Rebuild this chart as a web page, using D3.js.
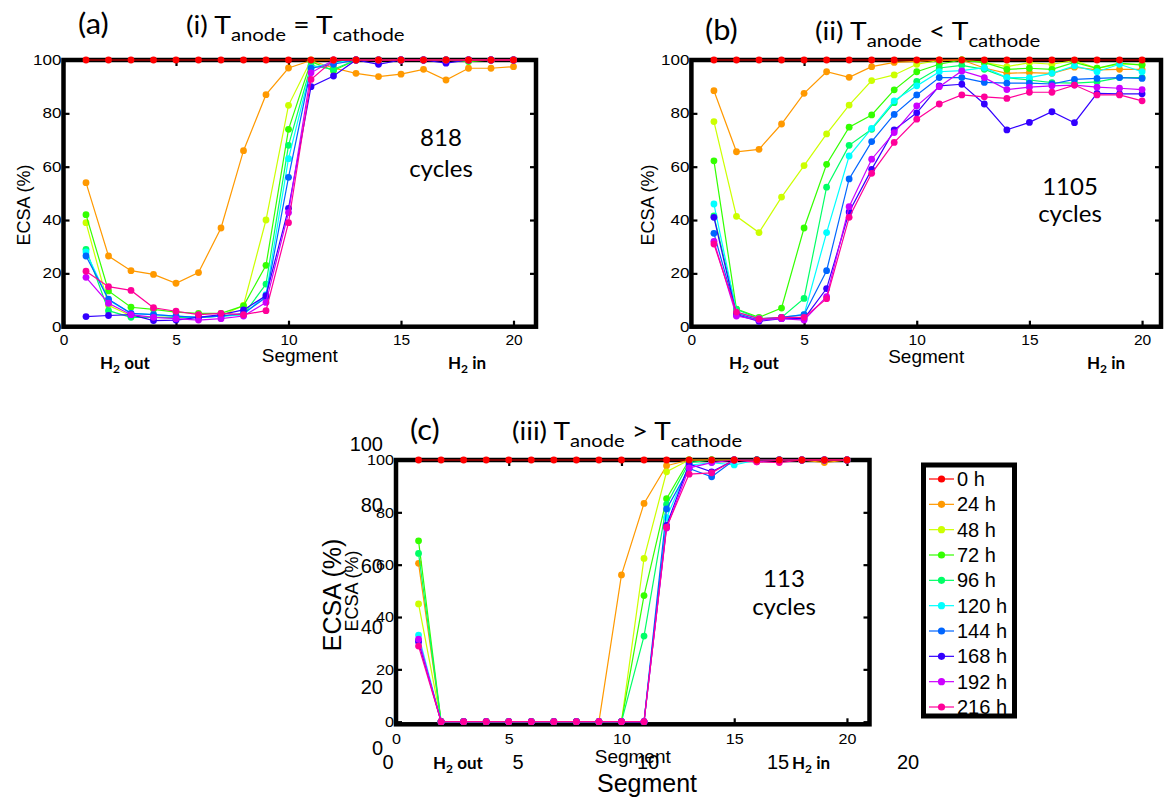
<!DOCTYPE html>
<html><head><meta charset="utf-8">
<script src="https://cdn.jsdelivr.net/npm/d3@7/dist/d3.min.js"></script>
<style>
body{margin:0;background:#fff;}
svg text{font-family:"Liberation Sans",Arial,sans-serif;fill:#000;}
svg .cal{font-family:Lato,"Open Sans",sans-serif;}
</style></head><body>
<svg id="chart" width="1164" height="798"></svg>
<script>
// ---------- data ----------
const segments = [1,2,3,4,5,6,7,8,9,10,11,12,13,14,15,16,17,18,19,20];
const hourLabels = ["0 h","24 h","48 h","72 h","96 h","120 h","144 h","168 h","192 h","216 h"];
const seriesColors = ["#ff0000","#ff9900","#ccff00","#33ff00","#00ff66","#00ffff","#0066ff","#3300ff","#cc00ff","#ff0099"];
const yTicks = [0,20,40,60,80,100];
const xTicks = [0,5,10,15,20];

// (a) T_anode = T_cathode, 818 cycles  (rows follow hourLabels)
const ecsaA = [
  [100,100,100,100,100,100,100,100,100,100,100,100,100,100,100,100,100,100,100,100],
  [54,26.5,21,19.6,16.3,20.3,37,66,87,97,99.8,97,95,93.8,94.7,96.5,92.5,96.9,96.9,97.5],
  [39,8,4,3.5,3.5,3.5,4,8,40,83,100,100,100,100,100,100,100,100,100,100],
  [42,13.4,7.3,6.5,5.5,5,5,7.8,23,74,99.4,96,100,100,100,100,100,99.4,100,100],
  [29,6,3.5,3.5,3.5,3.5,4,4.5,16,68,98,96.5,100,100,100,100,100,100,100,100],
  [28,10,5,4.5,4,3.5,4,4.5,12,63,97,99,100,100,100,100,100,100,100,100],
  [26.5,10.3,5,4.5,4,3.5,4,5,11,56,96.9,98.4,100,100,100,100,100,100,100,100],
  [3.8,4.2,4.5,2.3,2.5,3.5,4.5,6.3,11.6,44.4,90,94,100,98.4,100,100,98.8,100,100,100],
  [18.5,8.8,4.5,3.5,3,2.5,3,4,9.1,42.8,95.2,100,100,100,100,100,100,100,100,100],
  [20.8,15,13.6,7.1,5.8,4.5,5,4.5,6,39,92.7,100,100,100,100,100,100,100,100,100]
];
// (b) T_anode < T_cathode, 1105 cycles
const ecsaB = [
  [100,100,100,100,100,100,100,100,100,100,100,100,100,100,100,100,100,100,100,100],
  [88.5,65.6,66.5,76,87.5,95.6,93.5,97.5,99.1,99.5,100,100,97,95,95.3,95,97.3,96.3,96.5,96.5],
  [76.9,41.4,35.3,48.6,60.4,72.3,83.1,92.3,94.4,98.4,99.8,100,99.1,97.5,99,98.4,99.8,96.9,98.4,98.4],
  [62.2,6.6,3.5,7,37,60.9,74.8,79.4,88.8,95.6,98.4,100,99,96.5,96.9,96.5,99.1,96.9,98.8,98.1],
  [41.5,6.5,3,3.5,10.6,52.3,68,74,84,92,97,98,96.5,93.4,92.5,91.5,91.3,91.8,93.4,93.4],
  [46,5.5,3,3.5,4.5,35.3,64,74.4,84.7,90.3,95.6,96,97.1,93.4,93.4,95,97.8,95.6,98.4,95.6],
  [35,5,2.5,3.5,4.5,21,55.4,69.4,79.6,86.9,93.4,93.4,91.6,91.3,91.3,91,92.7,93.1,93.4,93.1],
  [41,4.5,2,3,3,14.3,43,59,73.8,80.2,90.3,90.9,83.5,73.8,76.6,80.6,76.5,87.5,87.3,87.3],
  [32,4,2.5,3,2.5,11.3,45,62.8,72.8,82.8,90,95.9,93.4,88.9,89.8,90.3,90.6,89.8,89.4,88.9],
  [31,5.5,3,3.5,3.5,10.5,41,57.5,69.1,77.8,83.5,86.9,86.2,85.6,87.9,87.9,90.6,86.9,86.9,84.7]
];
// (c) T_anode > T_cathode, 113 cycles
const ecsaC = [
  [100,100,100,100,100,100,100,100,100,100,100,100,100,100,100,100,100,100,100,100],
  [60.5,0,0,0,0,0,0,0,0,56.1,83.4,97.8,100,100,100,100,100,100,99,100],
  [45,0,0,0,0,0,0,0,0,0,62.4,95.5,100,100,100,100,100,100,100,100],
  [69.1,0,0,0,0,0,0,0,0,0,48.2,85.2,100,100,100,100,100,100,100,100],
  [64.3,0,0,0,0,0,0,0,0,0,32.7,83,99,100,100,100,100,100,100,100],
  [33.1,0,0,0,0,0,0,0,0,0,0,78,98,99,98.1,100,100,100,100,100],
  [31,0,0,0,0,0,0,0,0,0,0,81.3,96.8,93.6,100,100,100,100,100,100],
  [30.5,0,0,0,0,0,0,0,0,0,0,75,98.5,95.5,100,100,100,100,100,100],
  [31.5,0,0,0,0,0,0,0,0,0,0,74,97,99,100,99.3,100,100,100,100],
  [28.9,0,0,0,0,0,0,0,0,0,0,74.3,94.6,95.1,100,99.3,99,100,100,100]
];

// ---------- drawing ----------
const svg = d3.select("#chart");

// parts: [text, level] where level 1 = subscript, 0 = normal
function richText(textSel, parts, baseSize, subSize, shift){
  let cur = 0;
  parts.forEach(p=>{
    const lvl = p[1];
    textSel.append("tspan").text(p[0])
      .attr("font-size", lvl === 1 ? subSize : baseSize)
      .attr("dy", (lvl - cur) * shift);
    cur = lvl;
  });
}

function drawPanel(cfg, data){
  const g = svg.append("g");
  const x = d3.scaleLinear().domain([0,cfg.xMax]).range([cfg.left, cfg.right]);
  const y = d3.scaleLinear().domain(cfg.yDomain).range([cfg.bottom, cfg.top]);

  g.append("rect").attr("x",cfg.left).attr("y",cfg.top)
    .attr("width",cfg.right-cfg.left).attr("height",cfg.bottom-cfg.top)
    .attr("fill","none").attr("stroke","#000").attr("stroke-width",4.5);

  const axes = [
    [d3.axisBottom(x).tickValues(xTicks), `translate(0,${cfg.bottom})`, true],
    [d3.axisLeft(y).tickValues(yTicks), `translate(${cfg.left},0)`, true],
    [d3.axisTop(x).tickValues(xTicks).tickFormat(""), `translate(0,${cfg.top})`, false],
    [d3.axisRight(y).tickValues(yTicks).tickFormat(""), `translate(${cfg.right},0)`, false]
  ];
  axes.forEach(([ax, tr, lab], i)=>{
    const a = g.append("g").attr("transform", tr)
      .call(ax.tickSizeInner(-6).tickSizeOuter(0).tickPadding(0));
    a.select(".domain").remove();
    a.selectAll(".tick line").attr("stroke","#000").attr("stroke-width",2.2);
    a.attr("font-family",null).attr("font-size",null);
    if(lab){
      if(i===0){
        a.selectAll(".tick text").attr("y", cfg.xLabDy).attr("dy",null)
          .attr("font-size", cfg.xFont).attr("transform",`scale(${cfg.xScale},1)`);
      } else {
        a.selectAll(".tick text").attr("x",0)
          .attr("font-size", cfg.yFont)
          .attr("transform",`translate(-2,0) scale(${cfg.yScale},1)`);
      }
    }
  });

  const line = d3.line().x((d,i)=>x(segments[i])).y(d=>y(d));
  const order = [1,2,3,4,5,6,7,8,9,0];
  order.forEach(k=>{
    g.append("path").datum(data[k]).attr("d",line)
      .attr("fill","none").attr("stroke",seriesColors[k]).attr("stroke-width",1.2);
    g.selectAll(null).data(data[k]).enter().append("circle")
      .attr("cx",(d,i)=>x(segments[i])).attr("cy",d=>y(d)).attr("r",3.4)
      .attr("fill",seriesColors[k]);
  });

  // axis titles
  g.append("text").attr("x",(cfg.left+cfg.right)/2).attr("y",cfg.segY)
    .attr("text-anchor","middle").attr("font-size",19).text("Segment");
  g.append("text").attr("transform",`translate(${cfg.ecsaX},${cfg.ecsaY}) rotate(-90)`)
    .attr("text-anchor","middle").attr("dominant-baseline","central")
    .attr("font-size",18).text("ECSA (%)");

  // H2 labels
  [[cfg.h2outX," out"],[cfg.h2inX," in"]].forEach(([hx,word])=>{
    const t = g.append("text").attr("class","cal").attr("x",hx).attr("y",cfg.h2Y)
      .attr("font-weight","bold");
    richText(t, [["H",0],["2",1],[word,0]], 17, 12, 4);
  });

  // panel letter and title
  g.append("text").attr("class","cal")
    .attr("transform",`translate(${cfg.letterX},${cfg.letterY}) scale(1.1,1)`)
    .attr("font-size",28).text(cfg.letter);
  const tt = g.append("text").attr("class","cal")
    .attr("transform",`translate(${cfg.titleX},${cfg.titleY}) scale(${cfg.titleScale},1)`);
  richText(tt, [[cfg.roman+" T",0],["anode",1],[" "+cfg.rel+" T",0],["cathode",1]], 25, 18, 7);

  // cycles annotation
  g.append("text").attr("class","cal").attr("x",cfg.cycX).attr("y",cfg.cycY1)
    .attr("text-anchor","middle").attr("font-size",24).text(cfg.cycles);
  g.append("text").attr("class","cal").attr("x",cfg.cycX).attr("y",cfg.cycY2)
    .attr("text-anchor","middle").attr("font-size",24).text("cycles");
  return {x,y};
}

drawPanel({left:63.5,right:536,xMax:21,top:60,bottom:326.7,yDomain:[0,100],
  xLabDy:18,xFont:15.5,xScale:1,yFont:14,yScale:1.22,
  segY:362,ecsaX:24,ecsaY:205,h2outX:100,h2inX:448,h2Y:369,
  letter:"(a)",letterX:78,letterY:34,titleX:186,titleY:34,titleScale:1.13,roman:"(i)",rel:"=",
  cycles:"818",cycX:441,cycY1:146,cycY2:177}, ecsaA);

drawPanel({left:691.4,right:1161,xMax:20.84,top:60,bottom:326.7,yDomain:[0,100],
  xLabDy:18,xFont:15.5,xScale:1,yFont:14,yScale:1.22,
  segY:362.5,ecsaX:648,ecsaY:205,h2outX:729,h2inX:1087,h2Y:369,
  letter:"(b)",letterX:705,letterY:40,titleX:815,titleY:40,titleScale:1.13,roman:"(ii)",rel:"<",
  cycles:"1105",cycX:1070,cycY1:195,cycY2:222}, ecsaB);

drawPanel({left:396,right:869.5,xMax:21,top:460,bottom:724.3,yDomain:[-1,100],
  xLabDy:20,xFont:14,xScale:1.15,yFont:15,yScale:1.08,
  segY:763,ecsaX:352,ecsaY:591,h2outX:433,h2inX:792,h2Y:769,
  letter:"(c)",letterX:410,letterY:440,titleX:512,titleY:440,titleScale:1.12,roman:"(iii)",rel:">",
  cycles:"113",cycX:784,cycY1:587,cycY2:615}, ecsaC);

// ghost (duplicated, larger) axis labels overlaid on panel (c)
const gy = d3.scaleLinear().domain([0,100]).range([748,444.5]);
const gx = d3.scaleLinear().domain([0,20]).range([387.5,907.5]);
const ga1 = svg.append("g").attr("transform","translate(385,0)")
  .call(d3.axisLeft(gy).tickValues(yTicks).tickSize(0).tickPadding(2));
ga1.select(".domain").remove();
ga1.attr("font-family",null).attr("font-size",20);
const ga2 = svg.append("g").attr("transform","translate(0,755)")
  .call(d3.axisBottom(gx).tickValues(xTicks).tickSize(0).tickPadding(0));
ga2.select(".domain").remove();
ga2.attr("font-family",null).attr("font-size",20);
svg.append("text").attr("x",647).attr("y",792).attr("text-anchor","middle")
  .attr("font-size",25).text("Segment");
svg.append("text").attr("transform","translate(332,595) rotate(-90)")
  .attr("text-anchor","middle").attr("dominant-baseline","central")
  .attr("font-size",25).text("ECSA (%)");

// legend
const lg = svg.append("g");
lg.append("rect").attr("x",923.5).attr("y",465).attr("width",91).attr("height",251)
  .attr("fill","#fff").attr("stroke","#000").attr("stroke-width",5);
const legY = d3.scalePoint().domain(hourLabels).range([479,707]);
hourLabels.forEach((h,i)=>{
  const yy = legY(h);
  lg.append("line").attr("x1",929).attr("x2",954).attr("y1",yy).attr("y2",yy)
    .attr("stroke",seriesColors[i]).attr("stroke-width",1.2);
  lg.append("circle").attr("cx",941.5).attr("cy",yy).attr("r",3.6).attr("fill",seriesColors[i]);
  lg.append("text").attr("x",957).attr("y",yy).attr("dominant-baseline","central")
    .attr("font-size",20).text(h);
});
</script>
</body></html>
